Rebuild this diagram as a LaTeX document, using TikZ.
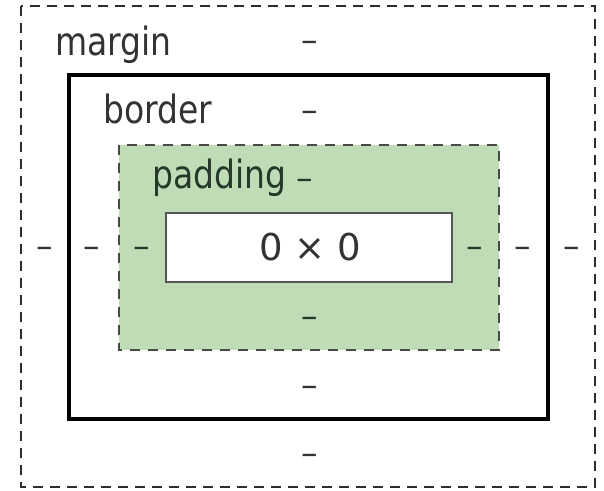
\documentclass[tikz,border=0pt]{standalone}
\usepackage{fontspec}
\setmainfont{DejaVu Sans}
\definecolor{txt}{HTML}{333333}
\definecolor{padtxt}{HTML}{26382A}
\definecolor{padfill}{HTML}{BFDCB6}
\definecolor{mline}{HTML}{2E2E2E}
\definecolor{pline}{HTML}{484848}
\definecolor{cline}{HTML}{555555}
\newcommand{\tallt}[1]{\scalebox{1}[1.18]{#1}}
\begin{document}
\begin{tikzpicture}[x=1pt,y=-1pt,
  lbl/.style={inner sep=0pt,anchor=base west,text=txt,font=\fontsize{33}{36}\selectfont},
  dsh/.style={inner sep=0pt,text=txt,font=\fontsize{33}{36}\selectfont},
  pdsh/.style={dsh,text=padtxt},
  marginbox/.style={draw=mline,line width=2.8pt,dash pattern=on 10pt off 7pt},
  borderbox/.style={draw=black,line width=3.4pt},
  paddingbox/.style={draw=pline,fill=padfill,line width=2.2pt,dash pattern=on 10pt off 8pt},
  contentbox/.style={draw=cline,fill=white,line width=2.2pt}]
\useasboundingbox (0,0) rectangle (604,490);
\fill[white] (0,0) rectangle (604,490);
% boxes
\draw[marginbox] (21,6) rectangle (595,487);
\draw[borderbox] (69,75) rectangle (548,419);
\draw[paddingbox] (119,145) rectangle (499,350);
\draw[contentbox] (166,213) rectangle (452,282);
% labels
\node[lbl] (mlabel) at (55,55) {\tallt{margin}};
\node[lbl] (blabel) at (103,123) {\tallt{border}};
\node[lbl,text=padtxt] (plabel) at (152,188) {\tallt{padding}};
% dashes top
\node[dsh] (mtop) at (310,46) {–};
\node[dsh] (btop) at (310,116) {–};
\node[pdsh] (ptop) at (305,184) {–};
% dashes bottom
\node[pdsh] (pbot) at (310,322) {–};
\node[dsh] (bbot) at (310,391) {–};
\node[dsh] (mbot) at (310,459) {–};
% dashes sides
\node[dsh] (mleft) at (45,252) {–};
\node[dsh] (bleft) at (92,252) {–};
\node[pdsh] (pleft) at (142,252) {–};
\node[pdsh] (pright) at (475,252) {–};
\node[dsh] (bright) at (523,252) {–};
\node[dsh] (mright) at (572,252) {–};
% content
\node[inner sep=0pt,text=txt,font=\fontsize{37}{40}\selectfont] (content) at (310,247) {0 × 0};
\end{tikzpicture}
\end{document}
